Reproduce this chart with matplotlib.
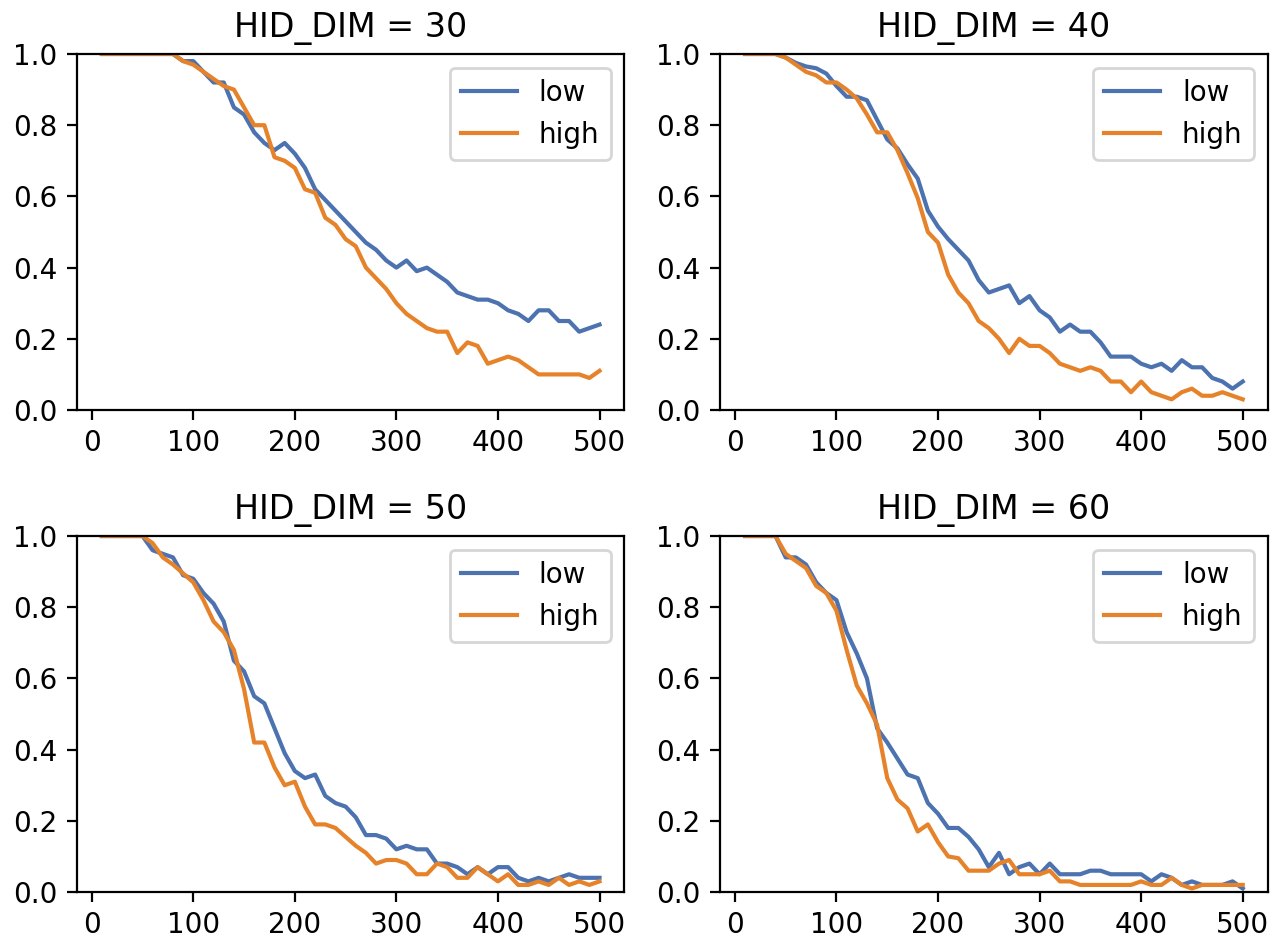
import matplotlib
matplotlib.use("Agg")
import matplotlib.pyplot as plt
import numpy as np

steps = list(range(10, 501, 10))

titles = ["HID_DIM = 30", "HID_DIM = 40", "HID_DIM = 50", "HID_DIM = 60"]
series_names = ["low", "high"]

low_30 = [1.0, 1.0, 1.0, 1.0, 1.0, 1.0, 1.0, 1.0, 0.98, 0.98,
          0.95, 0.92, 0.92, 0.85, 0.83, 0.78, 0.75, 0.73, 0.75, 0.72,
          0.68, 0.62, 0.59, 0.56, 0.53, 0.50, 0.47, 0.45, 0.42, 0.40,
          0.42, 0.39, 0.40, 0.38, 0.36, 0.33, 0.32, 0.31, 0.31, 0.30,
          0.28, 0.27, 0.25, 0.28, 0.28, 0.25, 0.25, 0.22, 0.23, 0.24]
high_30 = [1.0, 1.0, 1.0, 1.0, 1.0, 1.0, 1.0, 1.0, 0.98, 0.97,
           0.95, 0.93, 0.91, 0.90, 0.85, 0.80, 0.80, 0.71, 0.70, 0.68,
           0.62, 0.61, 0.54, 0.52, 0.48, 0.46, 0.40, 0.37, 0.34, 0.30,
           0.27, 0.25, 0.23, 0.22, 0.22, 0.16, 0.19, 0.18, 0.13, 0.14,
           0.15, 0.14, 0.12, 0.10, 0.10, 0.10, 0.10, 0.10, 0.09, 0.11]

low_40 = [1.0, 1.0, 1.0, 1.0, 0.99, 0.975, 0.965, 0.96, 0.945, 0.91,
          0.88, 0.88, 0.87, 0.815, 0.76, 0.735, 0.69, 0.65, 0.56, 0.515,
          0.48, 0.45, 0.42, 0.365, 0.33, 0.34, 0.35, 0.30, 0.32, 0.28,
          0.26, 0.22, 0.24, 0.22, 0.22, 0.19, 0.15, 0.15, 0.15, 0.13,
          0.12, 0.13, 0.11, 0.14, 0.12, 0.12, 0.09, 0.08, 0.06, 0.08]
high_40 = [1.0, 1.0, 1.0, 1.0, 0.99, 0.97, 0.95, 0.94, 0.92, 0.92,
           0.90, 0.875, 0.83, 0.78, 0.78, 0.73, 0.665, 0.595, 0.50, 0.47,
           0.38, 0.33, 0.30, 0.25, 0.23, 0.20, 0.16, 0.20, 0.18, 0.18,
           0.16, 0.13, 0.12, 0.11, 0.12, 0.11, 0.08, 0.08, 0.05, 0.08,
           0.05, 0.04, 0.03, 0.05, 0.06, 0.04, 0.04, 0.05, 0.04, 0.03]

low_50 = [1.0, 1.0, 1.0, 1.0, 1.0, 0.96, 0.95, 0.94, 0.89, 0.88,
          0.84, 0.81, 0.76, 0.65, 0.62, 0.55, 0.53, 0.46, 0.39, 0.34,
          0.32, 0.33, 0.27, 0.25, 0.24, 0.21, 0.16, 0.16, 0.15, 0.12,
          0.13, 0.12, 0.12, 0.08, 0.08, 0.07, 0.05, 0.07, 0.05, 0.07,
          0.07, 0.04, 0.03, 0.04, 0.03, 0.04, 0.05, 0.04, 0.04, 0.04]
high_50 = [1.0, 1.0, 1.0, 1.0, 1.0, 0.98, 0.94, 0.92, 0.895, 0.87,
           0.82, 0.76, 0.73, 0.68, 0.57, 0.42, 0.42, 0.35, 0.30, 0.31,
           0.24, 0.19, 0.19, 0.18, 0.155, 0.13, 0.11, 0.08, 0.09, 0.09,
           0.08, 0.05, 0.05, 0.08, 0.07, 0.04, 0.04, 0.07, 0.05, 0.03,
           0.05, 0.02, 0.02, 0.03, 0.02, 0.04, 0.02, 0.03, 0.02, 0.03]

low_60 = [1.0, 1.0, 1.0, 1.0, 0.94, 0.94, 0.92, 0.87, 0.84, 0.82,
          0.73, 0.67, 0.60, 0.46, 0.42, 0.375, 0.33, 0.32, 0.25, 0.22,
          0.18, 0.18, 0.155, 0.12, 0.07, 0.11, 0.05, 0.07, 0.08, 0.05,
          0.08, 0.05, 0.05, 0.05, 0.06, 0.06, 0.05, 0.05, 0.05, 0.05,
          0.03, 0.05, 0.04, 0.02, 0.03, 0.02, 0.02, 0.02, 0.03, 0.01]
high_60 = [1.0, 1.0, 1.0, 1.0, 0.95, 0.93, 0.91, 0.86, 0.84, 0.79,
           0.68, 0.58, 0.53, 0.47, 0.32, 0.26, 0.235, 0.17, 0.19, 0.14,
           0.10, 0.095, 0.06, 0.06, 0.06, 0.08, 0.09, 0.05, 0.05, 0.05,
           0.06, 0.03, 0.03, 0.02, 0.02, 0.02, 0.02, 0.02, 0.02, 0.03,
           0.02, 0.02, 0.04, 0.02, 0.01, 0.02, 0.02, 0.02, 0.02, 0.02]

panels = [(low_30, high_30), (low_40, high_40), (low_50, high_50), (low_60, high_60)]
colors = ["#4c72b0", "#e6832a"]

fig, axes = plt.subplots(2, 2, figsize=(12.83 / 2, 9.39 / 2), dpi=200)
fig.subplots_adjust(left=0.060, right=0.988, top=0.9425, bottom=0.050,
                    wspace=0.175, hspace=0.354)

for ax, title, (lo, hi) in zip(axes.flat, titles, panels):
    ax.plot(steps, lo, color=colors[0], lw=1.5, label=series_names[0])
    ax.plot(steps, hi, color=colors[1], lw=1.5, label=series_names[1])
    ax.set_ylim(0, 1.0)
    ax.set_xticks([0, 100, 200, 300, 400, 500])
    ax.set_title(title, fontsize=12)
    ax.legend(loc="upper right", fontsize=10)

fig.savefig("out.png", dpi=200)
